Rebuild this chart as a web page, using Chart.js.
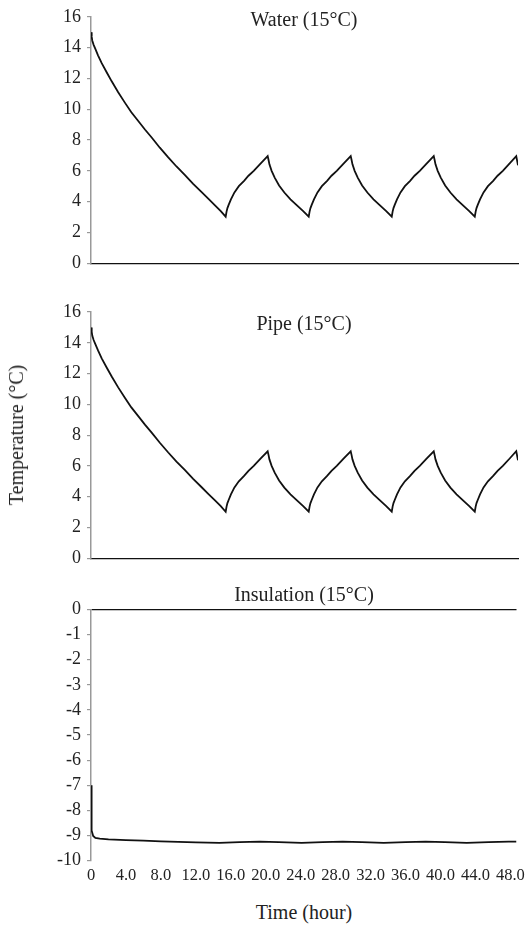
<!DOCTYPE html>
<html>
<head>
<meta charset="utf-8">
<script src="https://cdn.jsdelivr.net/npm/chart.js@4.4.1/dist/chart.umd.min.js"></script>
<style>
  body { margin: 0; background: #fff; width: 530px; height: 925px; position: relative; overflow: hidden; }
  canvas { position: absolute; left: 0; }
  .lbl {
    position: absolute; font-family: "Liberation Serif", "Times New Roman", serif;
    font-size: 20px; line-height: 1; color: #222; white-space: nowrap;
    transform: translate(-50%, -50%);
  }
</style>
</head>
<body>
<canvas id="waterChart" width="530" height="280" style="top:0px"></canvas>
<canvas id="pipeChart" width="530" height="285" style="top:290px"></canvas>
<canvas id="insulChart" width="530" height="305" style="top:585px"></canvas>

<div class="lbl" style="left:304px; top:19px">Water (15°C)</div>
<div class="lbl" style="left:304px; top:323px">Pipe (15°C)</div>
<div class="lbl" style="left:304px; top:594px">Insulation (15°C)</div>
<div class="lbl" style="left:16px; top:435px; transform: translate(-50%, -50%) rotate(-90deg)">Temperature (°C)</div>
<div class="lbl" style="left:304px; top:912px">Time (hour)</div>

<script>
/* ================================
   DADOS
================================ */
// tempo (h) das curvas de água e tubo
const timeWater = [
    0, 0.08, 0.15, 0.3, 0.46, 0.8, 1.22, 1.8, 2.36, 3.1, 3.88, 4.6, 5.39,
    6.15, 6.92, 7.85, 8.81, 9.75, 10.72, 11.65, 12.62, 13.4, 14.14, 14.8, 15.36,
    15.46, 15.56, 15.71, 15.96, 16.36, 16.86, 17.46, 17.96, 18.56, 19.36, 20.15,
    20.25, 20.35, 20.6, 20.95, 21.45, 22.05, 22.75, 23.55, 24.2, 24.83,
    24.93, 25.03, 25.18, 25.43, 25.83, 26.33, 26.93, 27.43, 28.03, 28.83, 29.62,
    29.72, 29.82, 30.07, 30.42, 30.92, 31.52, 32.22, 33.02, 33.67, 34.3,
    34.4, 34.5, 34.65, 34.9, 35.3, 35.8, 36.4, 36.9, 37.5, 38.3, 39.09,
    39.19, 39.29, 39.54, 39.89, 40.39, 40.99, 41.69, 42.49, 43.14, 43.77,
    43.87, 43.97, 44.12, 44.37, 44.77, 45.27, 45.87, 46.37, 46.97, 47.75, 48.5,
    48.7
];
const waterTemp = [
    15.0, 14.7, 14.45, 14.18, 13.96, 13.5, 12.99, 12.38, 11.81, 11.1, 10.41, 9.8, 9.23,
    8.68, 8.16, 7.5, 6.87, 6.28, 5.72, 5.15, 4.61, 4.17, 3.76, 3.38, 3.02,
    3.35, 3.58, 3.8, 4.15, 4.6, 5.0, 5.35, 5.68, 6.0, 6.48, 6.95,
    6.7, 6.42, 6.0, 5.56, 5.05, 4.59, 4.15, 3.72, 3.38, 3.02,
    3.35, 3.58, 3.8, 4.15, 4.6, 5.0, 5.35, 5.68, 6.0, 6.48, 6.95,
    6.7, 6.42, 6.0, 5.56, 5.05, 4.59, 4.15, 3.72, 3.38, 3.02,
    3.35, 3.58, 3.8, 4.15, 4.6, 5.0, 5.35, 5.68, 6.0, 6.48, 6.95,
    6.7, 6.42, 6.0, 5.56, 5.05, 4.59, 4.15, 3.72, 3.38, 3.02,
    3.35, 3.58, 3.8, 4.15, 4.6, 5.0, 5.35, 5.68, 6.0, 6.48, 6.95,
    6.36
];
const pipeTemp = [
    15.0, 14.7, 14.45, 14.18, 13.96, 13.5, 12.99, 12.38, 11.81, 11.1, 10.41, 9.8, 9.23,
    8.68, 8.16, 7.5, 6.87, 6.28, 5.72, 5.15, 4.61, 4.17, 3.76, 3.38, 3.02,
    3.35, 3.58, 3.8, 4.15, 4.6, 5.0, 5.35, 5.68, 6.0, 6.48, 6.95,
    6.7, 6.42, 6.0, 5.56, 5.05, 4.59, 4.15, 3.72, 3.38, 3.02,
    3.35, 3.58, 3.8, 4.15, 4.6, 5.0, 5.35, 5.68, 6.0, 6.48, 6.95,
    6.7, 6.42, 6.0, 5.56, 5.05, 4.59, 4.15, 3.72, 3.38, 3.02,
    3.35, 3.58, 3.8, 4.15, 4.6, 5.0, 5.35, 5.68, 6.0, 6.48, 6.95,
    6.7, 6.42, 6.0, 5.56, 5.05, 4.59, 4.15, 3.72, 3.38, 3.02,
    3.35, 3.58, 3.8, 4.15, 4.6, 5.0, 5.35, 5.68, 6.0, 6.48, 6.95,
    6.36
];

// tempo (h) e temperatura do isolamento
const timeInsul = [
    0, 0.04, 0.1, 0.25, 0.5, 1.0, 2.0, 4.0, 6.0, 8.0, 10.0, 12.0,
    14.7, 17.0, 19.3, 21.5, 24.1, 26.5, 28.8, 31.0, 33.5, 36.0, 38.3, 40.5, 43.0, 45.5, 47.8, 48.7
];
const insulTemp = [
    -7.0, -8.2, -8.8, -9.02, -9.1, -9.13, -9.16, -9.19, -9.21, -9.24, -9.26, -9.28,
    -9.3, -9.27, -9.25, -9.27, -9.3, -9.27, -9.25, -9.27, -9.3, -9.27, -9.25, -9.27, -9.3, -9.27, -9.25, -9.25
];

// marcas dos eixos
const xTicks = [0, 4, 8, 12, 16, 20, 24, 28, 32, 36, 40, 44, 48];
const yTicksTemp = [0, 2, 4, 6, 8, 10, 12, 14, 16];
const yTicksInsul = [-10, -9, -8, -7, -6, -5, -4, -3, -2, -1, 0];

/* ================================
   GRÁFICOS (Chart.js)
================================ */
const SERIF = '"Liberation Serif", "Times New Roman", serif';
const TEXT = '#222';

function makeChart(id, xs, ys, opt) {
    const ctx = document.getElementById(id).getContext('2d');
    const pts = xs.map((t, i) => ({ x: t, y: ys[i] }));
    return new Chart(ctx, {
        type: 'line',
        data: {
            datasets: [{
                data: pts,
                borderColor: '#111',
                borderWidth: 1.8,
                pointRadius: 0,
                tension: 0,
                fill: false
            }]
        },
        options: {
            responsive: false,
            animation: false,
            events: [],
            layout: { padding: { top: opt.padTop, right: 12, left: 0, bottom: 0 } },
            plugins: { legend: { display: false }, tooltip: { enabled: false } },
            scales: {
                x: {
                    type: 'linear',
                    min: 0,
                    max: 48.7,
                    afterBuildTicks: s => { s.ticks = xTicks.map(v => ({ value: v })); },
                    afterFit: s => { s.height = opt.xHeight; },
                    border: { display: opt.xBorder, color: '#111', width: 1.2 },
                    grid: { display: true, drawOnChartArea: false, drawTicks: false },
                    ticks: {
                        display: opt.xLabels,
                        padding: 5,
                        maxRotation: 0,
                        autoSkip: false,
                        color: TEXT,
                        font: { family: SERIF, size: 16.5 },
                        callback: v => v === 0 ? '0' : v.toFixed(1)
                    }
                },
                y: {
                    min: opt.yTicks[0],
                    max: opt.yTicks[opt.yTicks.length - 1],
                    afterBuildTicks: s => { s.ticks = opt.yTicks.map(v => ({ value: v })); },
                    afterFit: s => { s.width = 91; },
                    border: { color: '#999', width: 1.5 },
                    grid: {
                        drawOnChartArea: opt.zeroLine,
                        color: c => (opt.zeroLine && c.tick && c.tick.value === 0) ? '#111' : 'rgba(0,0,0,0)',
                        lineWidth: 1.2,
                        tickColor: '#999',
                        tickLength: 4
                    },
                    ticks: {
                        padding: 6,
                        color: TEXT,
                        font: { family: SERIF, size: 18 },
                        callback: v => String(v)
                    }
                }
            }
        }
    });
}

makeChart('waterChart', timeWater, waterTemp,
    { padTop: 15, xHeight: 16.7, xBorder: true, xLabels: false, yTicks: yTicksTemp, zeroLine: false });
makeChart('pipeChart', timeWater, pipeTemp,
    { padTop: 22, xHeight: 14.5, xBorder: true, xLabels: false, yTicks: yTicksTemp, zeroLine: false });
makeChart('insulChart', timeInsul, insulTemp,
    { padTop: 24.5, xHeight: 29.5, xBorder: false, xLabels: true, yTicks: yTicksInsul, zeroLine: true });
</script>
</body>
</html>
